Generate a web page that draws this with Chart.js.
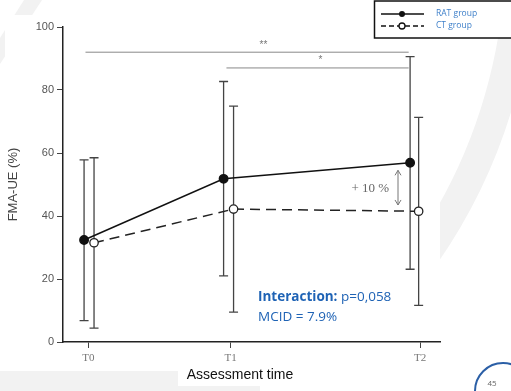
<!DOCTYPE html>
<html>
<head>
<meta charset="utf-8">
<script src="https://cdn.jsdelivr.net/npm/chart.js@4.4.1/dist/chart.umd.min.js"></script>
<style>
  html, body { margin: 0; padding: 0; background: #fff; }
  canvas { display: block; }
</style>
</head>
<body>
<canvas id="fmaChart" width="511" height="391"></canvas>
<script>
// FMA-UE over assessment time, RAT vs CT group
const categories = ['T0', 'T1', 'T2'];
const tickPos = [0, 1, 2.33];
const ratTime = [-0.03, 0.95, 2.26];
const ctTime = [0.04, 1.02, 2.32];
const ratMean = [32.4, 51.8, 56.9];
const ratLow = [6.8, 21.0, 23.1];
const ratHigh = [57.8, 82.7, 90.6];
const ctMean = [31.5, 42.2, 41.5];
const ctLow = [4.4, 9.5, 11.6];
const ctHigh = [58.5, 74.9, 71.3];
const yTicks = [0, 20, 40, 60, 80, 100];
const seriesNames = ['RAT group', 'CT group'];

const blue = '#1f63b5';

// slide background + white picture panel
const slideBg = {
  id: 'slideBg',
  beforeDraw(chart) {
    const c = chart.ctx;
    c.save();
    c.fillStyle = '#fff';
    c.fillRect(0, 0, chart.width, chart.height);
    c.fillStyle = '#f2f2f2';
    c.beginPath();
    c.moveTo(24, 0); c.lineTo(42, 0); c.lineTo(0, 64); c.lineTo(0, 38);
    c.closePath(); c.fill();
    c.strokeStyle = '#f2f2f2';
    c.lineWidth = 30;
    c.beginPath();
    c.moveTo(516, 20);
    c.quadraticCurveTo(498, 150, 425, 255);
    c.stroke();
    c.fillRect(0, 371, 260, 20);
    c.fillStyle = '#fff';
    c.fillRect(5, 15, 435, 356);
    c.fillRect(178, 355, 130, 31);
    // page number
    c.strokeStyle = '#2b5fa6';
    c.lineWidth = 2;
    c.beginPath();
    c.arc(503, 391, 28, 0, Math.PI * 2);
    c.stroke();
    c.fillStyle = '#666';
    c.font = '8px "Open Sans"';
    c.textAlign = 'center';
    c.textBaseline = 'middle';
    c.fillText('45', 492, 384);
    c.restore();
  }
};

function drawBars(c, x, y, times, low, high) {
  times.forEach((t, i) => {
    const px = x.getPixelForValue(t);
    const top = y.getPixelForValue(high[i]);
    const bot = y.getPixelForValue(low[i]);
    c.beginPath();
    c.moveTo(px, top); c.lineTo(px, bot);
    c.moveTo(px - 4.5, top); c.lineTo(px + 4.5, top);
    c.moveTo(px - 4.5, bot); c.lineTo(px + 4.5, bot);
    c.stroke();
  });
}

const errorBars = {
  id: 'errorBars',
  beforeDatasetsDraw(chart) {
    const c = chart.ctx, x = chart.scales.x, y = chart.scales.y;
    c.save();
    c.strokeStyle = '#444';
    c.lineWidth = 1.3;
    drawBars(c, x, y, ratTime, ratLow, ratHigh);
    drawBars(c, x, y, ctTime, ctLow, ctHigh);
    c.restore();
  }
};

const notes = {
  id: 'notes',
  afterDraw(chart) {
    const c = chart.ctx, x = chart.scales.x, y = chart.scales.y;
    c.save();
    // significance brackets
    c.strokeStyle = '#888';
    c.lineWidth = 1;
    c.beginPath();
    c.moveTo(x.getPixelForValue(-0.02), y.getPixelForValue(92));
    c.lineTo(x.getPixelForValue(2.25), y.getPixelForValue(92));
    c.moveTo(x.getPixelForValue(0.97), y.getPixelForValue(87));
    c.lineTo(x.getPixelForValue(2.25), y.getPixelForValue(87));
    c.stroke();
    c.fillStyle = '#777';
    c.font = '10px "Liberation Sans"';
    c.textAlign = 'center';
    c.textBaseline = 'middle';
    c.fillText('**', x.getPixelForValue(1.23), y.getPixelForValue(94.3));
    c.fillText('*', x.getPixelForValue(1.63), y.getPixelForValue(89.3));

    // +10 % difference marker
    c.fillStyle = '#666';
    c.font = '13px "Liberation Serif"';
    c.fillText('+ 10 %', x.getPixelForValue(1.98), y.getPixelForValue(48.6));
    const ax = x.getPixelForValue(2.175);
    const a1 = y.getPixelForValue(54.5), a2 = y.getPixelForValue(43.5);
    c.strokeStyle = '#777';
    c.beginPath();
    c.moveTo(ax, a1); c.lineTo(ax, a2);
    c.moveTo(ax - 3, a1 + 5); c.lineTo(ax, a1); c.lineTo(ax + 3, a1 + 5);
    c.moveTo(ax - 3, a2 - 5); c.lineTo(ax, a2); c.lineTo(ax + 3, a2 - 5);
    c.stroke();

    // x axis title
    c.fillStyle = '#111';
    c.font = '14px "Liberation Sans"';
    c.fillText('Assessment time', 240, 375);

    // statistics text
    c.textAlign = 'left';
    c.fillStyle = blue;
    c.font = 'bold 13.5px "Open Sans"';
    c.fillText('Interaction:', 258, 297);
    const w = c.measureText('Interaction: ').width;
    c.font = '13.5px "Open Sans"';
    c.fillText('p=0,058', 258 + w, 297);
    c.fillText('MCID = 7.9%', 258, 317);

    // legend box
    c.fillStyle = '#fff';
    c.fillRect(374, 1, 140, 37);
    c.strokeStyle = '#111';
    c.lineWidth = 1.5;
    c.strokeRect(374.5, 1, 140, 37);
    c.lineWidth = 1.3;
    c.beginPath();
    c.moveTo(381, 14); c.lineTo(424, 14);
    c.stroke();
    c.setLineDash([5, 3]);
    c.beginPath();
    c.moveTo(381, 26); c.lineTo(424, 26);
    c.stroke();
    c.setLineDash([]);
    c.fillStyle = '#111';
    c.beginPath(); c.arc(402, 14, 3, 0, Math.PI * 2); c.fill();
    c.fillStyle = '#fff';
    c.beginPath(); c.arc(402, 26, 3, 0, Math.PI * 2); c.fill(); c.stroke();
    c.fillStyle = '#3d7fc9';
    c.font = '8.5px "Open Sans"';
    c.fillText(seriesNames[0], 436, 14);
    c.fillText(seriesNames[1], 436, 26);
    c.restore();
  }
};

const ctx = document.getElementById('fmaChart');
const chart = new Chart(ctx, {
  type: 'scatter',
  data: {
    datasets: [{
      label: seriesNames[0],
      data: ratTime.map((t, i) => ({ x: t, y: ratMean[i] })),
      showLine: true,
      borderColor: '#111',
      borderWidth: 1.5,
      pointRadius: 4.2,
      pointBackgroundColor: '#111',
      pointBorderColor: '#111',
    }, {
      label: seriesNames[1],
      data: ctTime.map((t, i) => ({ x: t, y: ctMean[i] })),
      showLine: true,
      borderColor: '#222',
      borderWidth: 1.5,
      borderDash: [10, 6],
      pointRadius: 4.2,
      pointBackgroundColor: '#fff',
      pointBorderColor: '#222',
      pointBorderWidth: 1.3,
    }]
  },
  options: {
    responsive: false,
    animation: false,
    layout: { padding: { left: 0, right: 71, top: 27, bottom: 0 } },
    plugins: {
      legend: { display: false },
      tooltip: { enabled: false }
    },
    scales: {
      x: {
        type: 'linear',
        min: -0.178,
        max: 2.47,
        afterBuildTicks: (scale) => { scale.ticks = tickPos.map(v => ({ value: v })); },
        afterFit: (scale) => { scale.height = 49; },
        ticks: {
          callback: (v, i) => categories[i],
          color: '#777',
          font: { family: 'Liberation Serif', size: 11 },
          padding: 4,
          maxRotation: 0,
        },
        grid: { drawOnChartArea: false, drawTicks: true, tickLength: 6, tickColor: '#444' },
        border: { display: true, color: '#222', width: 1.5 },
      },
      y: {
        min: 0,
        max: 100,
        afterBuildTicks: (scale) => { scale.ticks = yTicks.map(v => ({ value: v })); },
        afterFit: (scale) => { scale.width = 63; },
        ticks: {
          color: '#555',
          font: { family: 'Liberation Sans', size: 11 },
          padding: 3,
        },
        grid: { drawOnChartArea: false, drawTicks: true, tickLength: 6, tickColor: '#444' },
        border: { display: true, color: '#222', width: 1.5 },
        title: {
          display: true,
          text: 'FMA-UE (%)',
          color: '#444',
          font: { family: 'Liberation Sans', size: 13 },
          padding: { top: 6, bottom: 0 },
        },
      }
    }
  },
  plugins: [slideBg, errorBars, notes]
});
</script>
</body>
</html>
